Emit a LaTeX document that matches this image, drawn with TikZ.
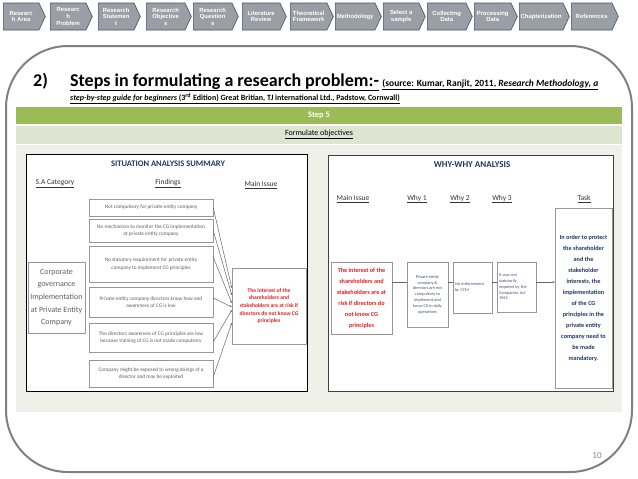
\documentclass[tikz,border=0pt]{standalone}
\usepackage{fontspec}
\setmainfont{Carlito}
\newfontfamily\arialfont{Liberation Sans}
\usetikzlibrary{positioning,shapes.symbols,arrows.meta}
\definecolor{framegray}{RGB}{128,128,128}
\definecolor{stagefill}{RGB}{155,158,165}
\definecolor{stageedge}{RGB}{62,82,112}
\definecolor{stepgreen}{RGB}{155,187,89}
\definecolor{rowgreen}{RGB}{221,228,207}
\definecolor{panelbg}{RGB}{238,240,233}
\definecolor{navy}{RGB}{31,56,100}
\definecolor{issuered}{RGB}{232,28,28}
\definecolor{boxgray}{RGB}{150,150,150}
\definecolor{txtgray}{RGB}{95,95,95}
\newcommand{\fsz}[2]{\fontsize{#1}{#2}\selectfont}

\begin{document}
\begin{tikzpicture}[x=1pt, y=-1pt,
  stage/.style={signal, signal to=east, signal pointer angle=130, draw=stageedge, line width=0.6pt, fill=stagefill, text=white, font=\arialfont\bfseries\fsz{5.9}{6.6}, align=center, inner xsep=0pt, inner ysep=0.5pt, minimum height=27pt, anchor=west},
  finding/.style={draw=boxgray, fill=white, text=txtgray, font=\fsz{5.3}{7.2}, align=center, inner sep=0pt, minimum width=124pt},
  whybox/.style={draw=boxgray, fill=white, text=txtgray!80!blue, font=\fsz{4.3}{5.8}, inner sep=1pt},
  head/.style={font=\fsz{7.5}{8}, text=black!80, inner sep=0pt},
  conn/.style={draw=black!60, line width=0.5pt}]
\useasboundingbox (0,0) rectangle (638,479);

% process chevrons
\node[stage, minimum width=42pt] (s1) at (3,16.5) {Researc\\h Area};
\node[stage, minimum width=42pt] (s2) at (50,16.5) {Researc\\h\\Problem};
\node[stage, minimum width=42pt] (s3) at (98,16.5) {Research\\Statemen\\t};
\node[stage, minimum width=45pt] (s4) at (146,16.5) {Research\\Objective\\s};
\node[stage, minimum width=45pt] (s5) at (193,16.5) {Research\\Question\\s};
\node[stage, minimum width=44pt] (s6) at (242,16.5) {Literature\\Review};
\node[stage, minimum width=43pt] (s7) at (290,16.5) {Theoretical\\Framework};
\node[stage, minimum width=46pt] (s8) at (335,16.5) {Methodology};
\node[stage, minimum width=42pt] (s9) at (383,16.5) {Select a\\sample};
\node[stage, minimum width=45pt] (s10) at (427,16.5) {Collecting\\Data};
\node[stage, minimum width=43pt] (s11) at (474,16.5) {Processing\\Data};
\node[stage, minimum width=50pt] (s12) at (519,16.5) {Chapterization};
\node[stage, minimum width=47pt] (s13) at (571,16.5) {References};

% slide frame
\draw[framegray, line width=2pt, rounded corners=62pt] (6,46) rectangle (632,472);

% heading
\node[anchor=base west, inner sep=0pt, font=\bfseries\fsz{18}{20}] (num) at (33,86) {2)};
\node[anchor=base west, inner sep=0pt, font=\bfseries\fsz{18}{20}] (title) at (70,86) {\underline{Steps in formulating a research problem:-}};
\node[anchor=base west, inner sep=0pt, font=\bfseries\fsz{9.5}{10}] (src1) at ([xshift=3pt]title.base east) {\underline{(source: Kumar, Ranjit, 2011, \textit{Research Methodology, a}}};
\node[anchor=base west, inner sep=0pt, font=\bfseries\fsz{8}{8}] (src2) at (70,100) {\underline{\textit{step-by-step guide for beginners} (3\textsuperscript{rd} Edition) Great Britian, TJ international Ltd., Padstow, Cornwall)}};

% table rows
\node[fill=stepgreen, minimum width=606pt, minimum height=17pt, inner sep=0pt, text=white, font=\bfseries\fsz{8.5}{9}] (step) at (319,115.5) {Step 5};
\node[fill=rowgreen, minimum width=606pt, minimum height=18pt, inner sep=0pt, font=\fsz{8}{9}] (goal) at (319,134.5) {\underline{Formulate objectives}};
\node[fill=panelbg, minimum width=606pt, minimum height=267pt, inner sep=0pt] (body) at (319,278.5) {};

% situation analysis summary
\node[draw=black, line width=0.8pt, fill=white, minimum width=281pt, minimum height=237pt, inner sep=0pt] (sapanel) at (166.5,272.5) {};
\node[font=\bfseries\fsz{8.5}{9}, text=navy, inner sep=0pt] (satitle) at (168,164) {SITUATION ANALYSIS SUMMARY};
\node[head] (h1) at (55,184) {\underline{S.A Category}};
\node[head] (h2) at (168,184) {\underline{Findings}};
\node[head] (h3) at (261,185) {\underline{Main Issue}};
\node[draw=boxgray, fill=white, text=txtgray, font=\fsz{8}{12.6}, align=center, inner sep=0pt, minimum width=57pt, minimum height=71pt] (cat) at (56.5,297.5) {Corporate\\governance\\Implementation\\at Private Entity\\Company};
\node[finding, minimum height=17pt] (f1) at (151,207.5) {Not compulsory for private entity company};
\node[finding, minimum height=23pt] (f2) at (151,230.5) {No mechanism to monitor the CG implementation\\at private entity company};
\node[finding, minimum height=36pt] (f3) at (151,264) {No statutory requirement for private entity\\company to implement CG principles};
\node[finding, minimum height=30pt] (f4) at (151,302) {Private entity company directors know how and\\awareness of CG is low};
\node[finding, minimum height=29pt] (f5) at (151,337.5) {The directors awareness of CG principles are low\\because training of CG is not made compulsory};
\node[finding, minimum height=27pt] (f6) at (151,373.5) {Company might be exposed to wrong doings of a\\director and may be exploited};
\node[draw=boxgray, fill=white, text=issuered, font=\bfseries\fsz{5.6}{7.6}, align=center, inner sep=0pt, minimum width=74pt, minimum height=76pt] (issue) at (269,306) {The interest of the\\shareholders and\\stakeholders are at risk if\\directors do not know CG\\principles};
\draw[conn, -{Stealth[length=2.2pt,width=2pt]}] (f1.east) -- ([yshift=18pt]issue.west);
\draw[conn, -{Stealth[length=2.2pt,width=2pt]}] (f2.east) -- ([yshift=11pt]issue.west);
\draw[conn, -{Stealth[length=2.2pt,width=2pt]}] ([yshift=7pt]f3.east) -- ([yshift=3pt]issue.west);
\draw[conn, -{Stealth[length=2.2pt,width=2pt]}] ([yshift=4pt]f4.east) -- ([yshift=-1pt]issue.west);
\draw[conn, -{Stealth[length=2.2pt,width=2pt]}] ([yshift=-4.5pt]f5.east) -- ([yshift=-4pt]issue.west);
\draw[conn, -{Stealth[length=2.2pt,width=2pt]}] ([yshift=-3.5pt]f6.east) -- ([yshift=-17pt]issue.west);

% why-why analysis
\node[draw=black!75, line width=1pt, fill=white, minimum width=285pt, minimum height=236pt, inner sep=0pt] (wwpanel) at (470.5,273) {};
\node[font=\bfseries\fsz{9}{10}, text=navy, inner sep=0pt] (wwtitle) at (472,165) {WHY-WHY ANALYSIS};
\node[head, font=\fsz{7.5}{8}] (w0) at (353,199) {\underline{Main Issue}};
\node[head, font=\fsz{7.5}{8}] (w1) at (417,199) {\underline{Why 1}};
\node[head, font=\fsz{7.5}{8}] (w2) at (460,199) {\underline{Why 2}};
\node[head, font=\fsz{7.5}{8}] (w3) at (502,199) {\underline{Why 3}};
\node[head, font=\fsz{7.5}{8}] (w4) at (584,199) {\underline{Task}};
\node[draw=boxgray, fill=white, text=issuered, font=\bfseries\fsz{6.2}{11}, align=center, inner sep=0pt, minimum width=61pt, minimum height=72pt] (mainr) at (361.5,298) {The interest of the\\shareholders and\\stakeholders are at\\risk if directors do\\not know CG\\principles};
\node[whybox, align=center, minimum width=41pt, minimum height=65pt] (why1) at (427.5,294.5) {Private entity\\company \&\\directors are not\\compulsory to\\implement and\\know CG in daily\\operations};
\node[whybox, align=left, text width=35pt, minimum width=39pt, minimum height=51pt] (why2) at (472.5,287.5) {No enforcement\\by CCM};
\node[whybox, align=left, text width=35pt, minimum width=39pt, minimum height=50pt] (why3) at (516.5,287) {It was not\\statutorily\\required by the\\Companies Act\\1965};
\node[draw=boxgray, fill=white, text=navy, font=\bfseries\fsz{6.2}{11}, align=center, inner sep=0pt, minimum width=57pt, minimum height=180pt] (task) at (583.5,298) {In order to protect\\the shareholder\\and the\\stakeholder\\interests, the\\implementation\\of the CG\\principles in the\\private entity\\company need to\\be made\\mandatory.};
\draw[conn] ([yshift=16pt]mainr.east) -- ([yshift=12.5pt]why1.west);
\draw[conn] ([yshift=12.5pt]why1.east) -- ([yshift=5.5pt]why2.west);
\draw[conn] ([yshift=5.5pt]why2.east) -- ([yshift=5pt]why3.west);
\draw[conn, -{Stealth[length=2.2pt,width=2pt]}] ([yshift=5pt]why3.east) -- ([yshift=16pt]task.west);

\node[text=framegray, font=\fsz{9}{10}] (pagenum) at (597,456) {10};
\end{tikzpicture}
\end{document}
